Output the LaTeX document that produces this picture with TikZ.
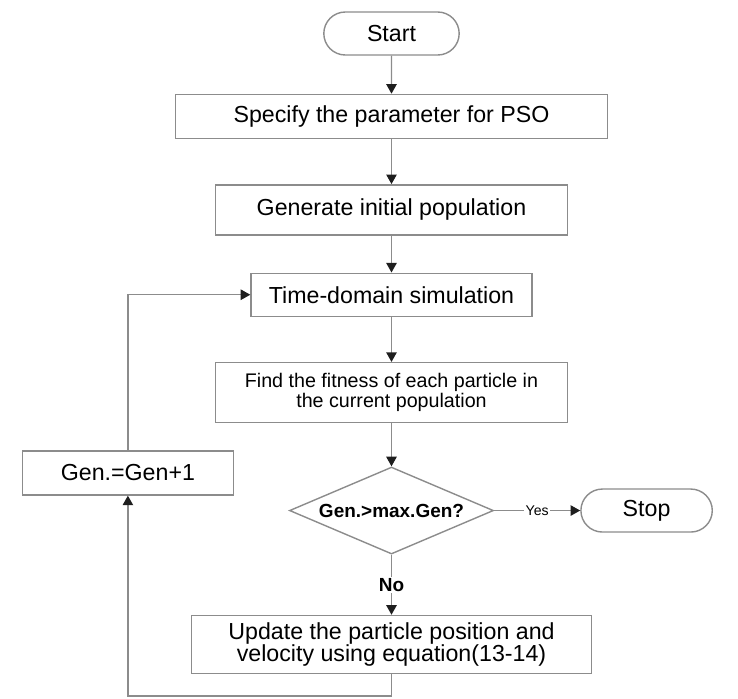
\documentclass[tikz,border=0pt]{standalone}
\usepackage{fontspec}
\setmainfont{Liberation Sans}
\usetikzlibrary{arrows.meta,positioning,calc,shapes.geometric,shapes.misc}
\definecolor{FlowLine}{HTML}{8C8C8C}
\definecolor{FlowTip}{HTML}{1E1E1E}

\begin{document}
\begin{tikzpicture}[
  proc/.style={draw=FlowLine,line width=1pt,align=center,inner sep=2pt,font=\fontsize{16.5}{16}\selectfont},
  term/.style={proc,rounded rectangle,minimum width=3.525cm,minimum height=1.075cm},
  decide/.style={draw=FlowLine,line width=1pt,diamond,aspect=2.35,inner sep=0pt,minimum width=5.1cm,minimum height=2.175cm,font=\fontsize{13.5}{14}\selectfont\bfseries},
  arr/.style={-{Triangle[length=2.4mm,width=2.6mm,color=FlowTip]},line width=1pt,FlowLine},
  note/.style={fill=white,text=black,inner sep=1pt},
]
\useasboundingbox (-9.7875,0.8375) rectangle (8.6625,-16.6125);
\node[term] (start) {Start};
\node[proc,minimum width=10.8cm,minimum height=1.1cm,below=0.95cm of start] (spec) {Specify the parameter for PSO};
\node[proc,minimum width=8.8cm,minimum height=1.25cm,below=1.125cm of spec] (init) {Generate initial population};
\node[proc,minimum width=7.025cm,minimum height=1.075cm,below=0.925cm of init] (sim) {Time-domain simulation};
\node[proc,minimum width=8.8cm,minimum height=1.5cm,below=1.125cm of sim,font=\fontsize{14}{13}\selectfont] (fit) {Find the fitness of each particle in\\the current population};
\node[decide,below=1.075cm of fit] (check) {Gen.>max.Gen?};
\node[proc,minimum width=10cm,minimum height=1.45cm,below=1.5cm of check] (upd) {Update the particle position and\\velocity using equation(13-14)};
\node[term,minimum width=3.425cm,right=2.15cm of check] (stop) {Stop};
\node[proc,minimum width=5.275cm,minimum height=1.1cm] (incr) at ($(check.center)+(-6.59,0.94)$) {Gen.=Gen+1};
\coordinate (back) at ($(upd.south)+(0,-0.55)$);
\draw[arr] (start) -- (spec);
\draw[arr] (spec) -- (init);
\draw[arr] (init) -- (sim);
\draw[arr] (sim) -- (fit);
\draw[arr] (fit) -- (check);
\draw[arr] (check) -- node[note,font=\fontsize{10}{10}\selectfont]{Yes} (stop);
\draw[arr] (check) -- node[note,font=\fontsize{13.5}{14}\selectfont\bfseries]{No} (upd);
\draw[arr] (upd) -- (back) -| (incr);
\draw[arr] (incr) |- (sim);
\end{tikzpicture}
\end{document}
